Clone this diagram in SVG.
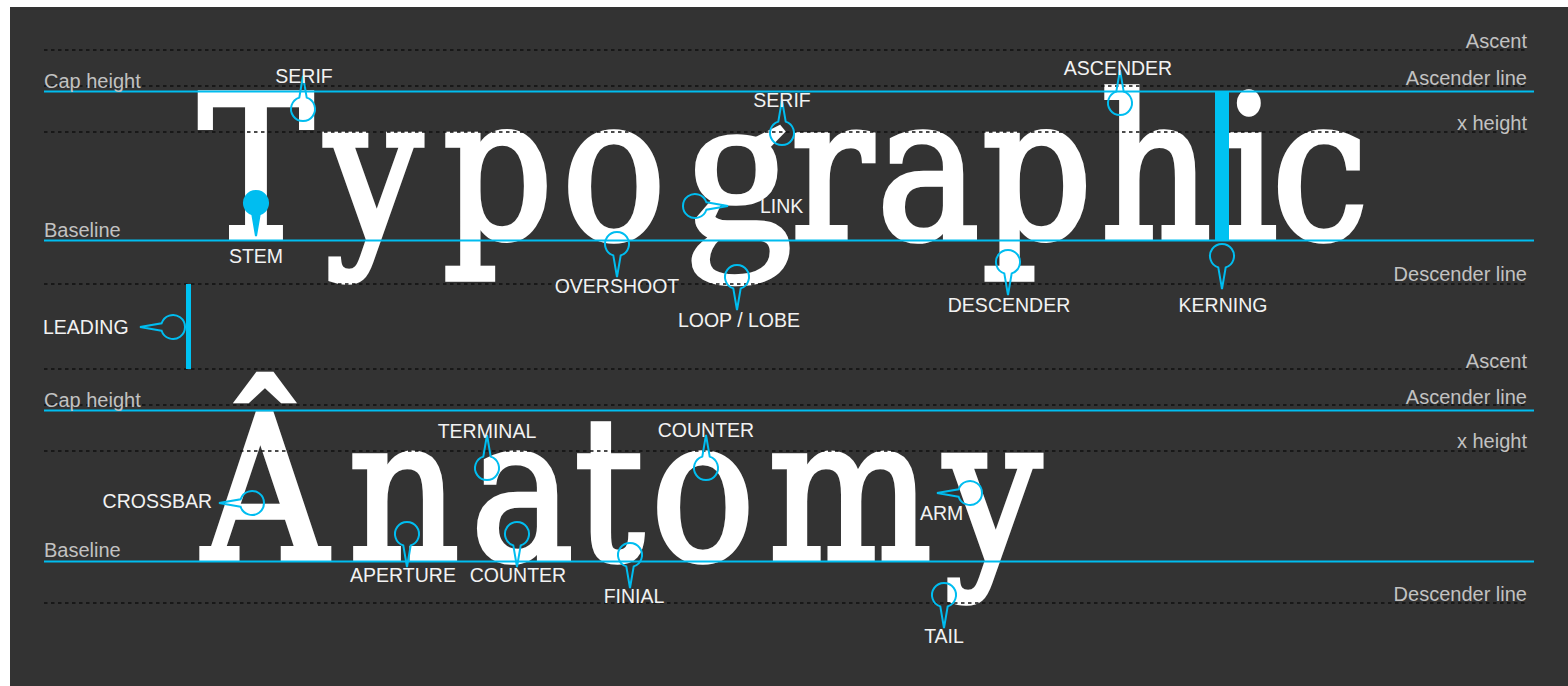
<svg xmlns="http://www.w3.org/2000/svg" xmlns:xlink="http://www.w3.org/1999/xlink" width="1568" height="686" viewBox="0 0 1568 686">
<style>
.dot{stroke:#111;stroke-width:1.7;stroke-dasharray:3.5 3.5;fill:none}
.cy{stroke:#00bdf0;stroke-width:2.2;fill:none}
.glab{font-family:"Liberation Sans",Arial,sans-serif;font-size:20px;fill:#c2c2c2}
.lab{font-family:"Liberation Sans",Arial,sans-serif;font-size:19.5px;fill:#f2f2f2}
.big{font-family:"DejaVu Serif",serif;font-size:198px;fill:#fff;stroke:#fff;stroke-width:5.5;stroke-linejoin:miter}
.bigg{font-family:"Liberation Serif",serif;font-size:216px;fill:#fff;stroke:#fff;stroke-width:3.5}
.pin{fill:none;stroke:#00bdf0;stroke-width:2}
.pinf{fill:#00bdf0;stroke:#00bdf0;stroke-width:2}
</style>
<defs>
<path id="pin" d="M-3.7,-11.4 L0,-33 L3.7,-11.4 A12,12 0 1 1 -3.7,-11.4 Z"/>
</defs>
<rect width="1568" height="686" fill="#ffffff"/>
<rect x="10" y="7" width="1558" height="679" fill="#333333"/>

<g id="word-typographic">
<g transform="scale(0.87,1)">
<text class="big" y="238" text-anchor="middle" x="294.3 429.9 572.4 705.7">Typo</text>
<text class="big" y="238" text-anchor="middle" x="956.3 1066.7 1192.0 1328.7 1436.8 1517.2">raphic</text>
</g>
<text class="bigg" x="738" y="238" text-anchor="middle">g</text>
</g>

<g id="word-anatomy">
<g transform="scale(0.87,1)">
<text class="big" y="559.5" text-anchor="middle" x="304.6 464.4 600.0 700.0 808.0 977.0 1141.4">Ânatomy</text>
</g>
</g>

<g id="guides">
<line class="dot" x1="44" y1="50" x2="1527" y2="50"/>
<line class="dot" x1="44" y1="86" x2="1527" y2="86"/>
<line class="dot" x1="44" y1="132" x2="1527" y2="132"/>
<line class="dot" x1="44" y1="284" x2="1527" y2="284"/>
<line class="cy" x1="44" y1="91.5" x2="1534" y2="91.5"/>
<line class="cy" x1="44" y1="240.5" x2="1534" y2="240.5"/>
<line class="dot" x1="44" y1="369" x2="1527" y2="369"/>
<line class="dot" x1="44" y1="405" x2="1527" y2="405"/>
<line class="dot" x1="44" y1="451" x2="1527" y2="451"/>
<line class="dot" x1="44" y1="603" x2="1527" y2="603"/>
<line class="cy" x1="44" y1="410.5" x2="1534" y2="410.5"/>
<line class="cy" x1="44" y1="561.5" x2="1534" y2="561.5"/>
<rect x="1215" y="91" width="14" height="149" fill="#00c2f2"/>
<rect x="186" y="284" width="5" height="85" fill="#00c2f2"/>
</g>

<g id="guide-labels">
<text class="glab" x="44" y="88">Cap height</text>
<text class="glab" x="44" y="237">Baseline</text>
<text class="glab" x="1527" y="48" text-anchor="end">Ascent</text>
<text class="glab" x="1527" y="85" text-anchor="end">Ascender line</text>
<text class="glab" x="1527" y="130" text-anchor="end">x height</text>
<text class="glab" x="1527" y="281" text-anchor="end">Descender line</text>
<text class="glab" x="44" y="407">Cap height</text>
<text class="glab" x="44" y="557">Baseline</text>
<text class="glab" x="1527" y="368" text-anchor="end">Ascent</text>
<text class="glab" x="1527" y="404" text-anchor="end">Ascender line</text>
<text class="glab" x="1527" y="448" text-anchor="end">x height</text>
<text class="glab" x="1527" y="601" text-anchor="end">Descender line</text>
</g>

<g id="connectors">
<use xlink:href="#pin" class="pin" transform="translate(303,109)"/>
<use xlink:href="#pin" class="pinf" transform="translate(256,203) rotate(180)"/>
<use xlink:href="#pin" class="pin" transform="translate(782,133)"/>
<use xlink:href="#pin" class="pin" transform="translate(695,206) rotate(90)"/>
<use xlink:href="#pin" class="pin" transform="translate(617,244) rotate(180)"/>
<use xlink:href="#pin" class="pin" transform="translate(737,277) rotate(180)"/>
<use xlink:href="#pin" class="pin" transform="translate(1120,103)"/>
<use xlink:href="#pin" class="pin" transform="translate(1008,262) rotate(180)"/>
<use xlink:href="#pin" class="pin" transform="translate(1222,256) rotate(180)"/>
<use xlink:href="#pin" class="pin" transform="translate(173,327) rotate(-90)"/>
<use xlink:href="#pin" class="pin" transform="translate(487,468)"/>
<use xlink:href="#pin" class="pin" transform="translate(706,468)"/>
<use xlink:href="#pin" class="pin" transform="translate(252,503) rotate(-90)"/>
<use xlink:href="#pin" class="pin" transform="translate(970,493) rotate(-90)"/>
<use xlink:href="#pin" class="pin" transform="translate(407,534) rotate(180)"/>
<use xlink:href="#pin" class="pin" transform="translate(517,534) rotate(180)"/>
<use xlink:href="#pin" class="pin" transform="translate(630,555) rotate(180)"/>
<use xlink:href="#pin" class="pin" transform="translate(944,595) rotate(180)"/>
</g>

<g id="labels">
<g id="serif-1"><text class="lab" x="304" y="83" text-anchor="middle">SERIF</text></g>
<g id="stem"><text class="lab" x="256" y="263" text-anchor="middle">STEM</text></g>
<g id="serif-2"><text class="lab" x="782" y="107" text-anchor="middle">SERIF</text></g>
<g id="link"><text class="lab" x="760" y="213">LINK</text></g>
<g id="overshoot"><text class="lab" x="617" y="293" text-anchor="middle">OVERSHOOT</text></g>
<g id="loop"><text class="lab" x="739" y="327" text-anchor="middle">LOOP / LOBE</text></g>
<g id="ascender"><text class="lab" x="1118" y="75" text-anchor="middle">ASCENDER</text></g>
<g id="descender"><text class="lab" x="1009" y="312" text-anchor="middle">DESCENDER</text></g>
<g id="kerning"><text class="lab" x="1223" y="312" text-anchor="middle">KERNING</text></g>
<g id="leading"><text class="lab" x="43" y="334">LEADING</text></g>
<g id="terminal"><text class="lab" x="487" y="438" text-anchor="middle">TERMINAL</text></g>
<g id="counter-1"><text class="lab" x="706" y="437" text-anchor="middle">COUNTER</text></g>
<g id="crossbar"><text class="lab" x="212" y="508" text-anchor="end">CROSSBAR</text></g>
<g id="arm"><text class="lab" x="920" y="520">ARM</text></g>
<g id="aperture"><text class="lab" x="403" y="582" text-anchor="middle">APERTURE</text></g>
<g id="counter-2"><text class="lab" x="518" y="582" text-anchor="middle">COUNTER</text></g>
<g id="finial"><text class="lab" x="634" y="603" text-anchor="middle">FINIAL</text></g>
<g id="tail"><text class="lab" x="944" y="643" text-anchor="middle">TAIL</text></g>
</g>
</svg>
